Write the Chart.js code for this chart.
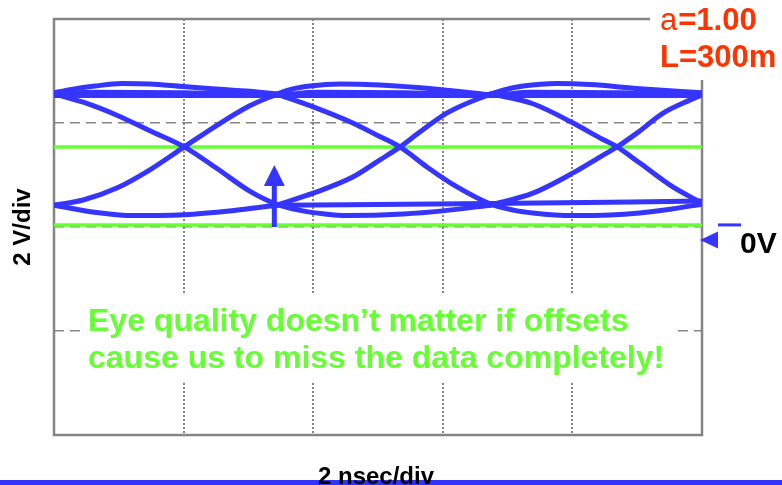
<!DOCTYPE html>
<html>
<head>
<meta charset="utf-8">
<script src="https://cdn.jsdelivr.net/npm/chart.js@4.4.1/dist/chart.umd.min.js"></script>
<style>
  html, body { margin: 0; padding: 0; background: #fff; overflow: hidden; }
  canvas { display: block; }
</style>
</head>
<body>
<canvas id="scope" width="782" height="485"></canvas>
<script>
// Scope eye diagram, a = 1.00, L = 300 m cable.
// Every trace is a list of [time (ns), voltage (V)] samples.

// grid divisions: 2 ns/div horizontally, 2 V/div vertically
const TIME_GRID = [2, 4, 6, 8];
const VOLT_GRID = [-1.75, 0.25, 2.25];
const TIME_RANGE = [0, 10];
const VOLT_RANGE = [-3.75, 4.25];

// receiver threshold levels (green)
const THRESHOLDS = [0.29, 1.79];

// offset arrow: time, start level, end level
const OFFSET_ARROW = { t: 3.4, from: 0.25, to: 1.44 };

// upper rail traces
const flatTop = [[0, 2.78], [3.43, 2.78], [6.74, 2.78], [10, 2.78]];
const innerTop = [[0, 2.80], [0.62, 2.84], [2.01, 2.83], [3.43, 2.79], [4.04, 2.84], [5.43, 2.83],
                  [6.74, 2.79], [7.36, 2.84], [8.75, 2.83], [10, 2.79]];
const arcTop1 = [[0, 2.83], [0.25, 2.89], [0.63, 2.96], [1.05, 3.01], [1.48, 3.00], [1.99, 2.95],
                 [2.56, 2.90], [3.02, 2.86], [3.43, 2.81]];

// rising edges, each running on into the overshoot of the next bit
const riseArc1 = [[0, 0.67], [0.45, 0.77], [0.97, 1.00], [1.48, 1.35], [2.01, 1.79], [2.52, 2.21],
                  [3.02, 2.58], [3.33, 2.75], [3.64, 2.89], [3.95, 2.96], [4.41, 3.00], [5.03, 2.98],
                  [5.91, 2.90], [6.74, 2.79]];
const riseArc2 = [[3.43, 0.67], [4.00, 0.90], [4.61, 1.21], [5.03, 1.54], [5.34, 1.79], [5.65, 2.08],
                  [6.06, 2.44], [6.53, 2.71], [6.93, 2.88], [7.24, 2.96], [7.76, 3.01], [8.27, 2.99],
                  [9.04, 2.91], [10, 2.83]];
const rise3 = [[6.74, 0.67], [7.39, 0.90], [8.01, 1.29], [8.43, 1.60], [8.69, 1.79], [9.00, 2.06],
               [9.40, 2.44], [9.81, 2.69], [10, 2.79]];

// falling edges, each running on into the undershoot of the next bit
const fallArc1 = [[0, 2.81], [0.45, 2.65], [0.97, 2.40], [1.48, 2.10], [2.01, 1.79], [2.52, 1.37],
                  [3.02, 0.94], [3.43, 0.69], [3.80, 0.57], [4.18, 0.50], [4.52, 0.47], [5.39, 0.50],
                  [6.00, 0.56], [6.74, 0.67]];
const fallArc2 = [[3.43, 2.81], [4.00, 2.56], [4.61, 2.25], [4.98, 2.02], [5.34, 1.79], [5.76, 1.40],
                  [6.22, 1.02], [6.74, 0.69], [7.11, 0.57], [7.39, 0.52], [7.99, 0.47], [8.58, 0.48],
                  [9.04, 0.52], [9.51, 0.59], [10, 0.69]];
const fall3 = [[6.74, 2.81], [7.39, 2.62], [8.01, 2.25], [8.43, 1.96], [8.69, 1.79], [9.04, 1.48],
               [9.55, 1.02], [10, 0.71]];

// lower rail traces
const arcBottom1 = [[0, 0.67], [0.59, 0.54], [1.23, 0.47], [2.08, 0.49], [2.87, 0.58], [3.43, 0.67]];
const flatBottom = [[3.43, 0.67], [6.74, 0.70], [10, 0.75]];

const TRACES = [flatTop, innerTop, arcTop1, riseArc1, riseArc2, rise3,
                fallArc1, fallArc2, fall3, arcBottom1, flatBottom];

const NOTE_LINES = ['Eye quality doesn\u2019t matter if offsets',
                    'cause us to miss the data completely!'];

const FONT = '"Liberation Sans", Arial, Helvetica, sans-serif';
const TRACE_BLUE = '#3535ff';
const LEVEL_GREEN = '#66ff33';
const GRID_GREY = '#858585';
const LABEL_RED = '#ff3300';

const datasets = TRACES.map(tr => ({
  data: tr.map(([t, v]) => ({ x: t, y: v })),
  borderColor: TRACE_BLUE,
  borderWidth: 5,
  borderCapStyle: 'round',
  borderJoinStyle: 'round',
  pointRadius: 0,
  cubicInterpolationMode: 'monotone',
  fill: false,
  order: 1
}));
THRESHOLDS.forEach(v => datasets.push({
  data: [{ x: TIME_RANGE[0], y: v }, { x: TIME_RANGE[1], y: v }],
  borderColor: LEVEL_GREEN,
  borderWidth: 3.5,
  pointRadius: 0,
  fill: false,
  order: 2
}));

const scopeMarks = {
  id: 'scopeMarks',
  beforeDatasetsDraw(chart) {
    const { ctx, chartArea: a } = chart;
    ctx.save();
    // graticule frame
    ctx.strokeStyle = GRID_GREY;
    ctx.lineWidth = 2.5;
    ctx.strokeRect(a.left, a.top, a.right - a.left, a.bottom - a.top);
    // note panel knocks the graticule out behind the text
    ctx.font = `bold 32px ${FONT}`;
    const tx = a.left + 34, b1 = a.top + 312, lh = 37;
    const w = Math.max(...NOTE_LINES.map(s => ctx.measureText(s).width));
    ctx.fillStyle = '#fff';
    ctx.fillRect(tx - 8, b1 - 38, w + 20, lh + 51);
    ctx.restore();
  },
  afterDatasetsDraw(chart) {
    const { ctx, chartArea: a, scales: { x, y } } = chart;
    ctx.save();

    // offset arrow
    const ax = x.getPixelForValue(OFFSET_ARROW.t);
    const ay0 = y.getPixelForValue(OFFSET_ARROW.from);
    const ay1 = y.getPixelForValue(OFFSET_ARROW.to);
    ctx.fillStyle = TRACE_BLUE;
    ctx.fillRect(ax - 2.5, ay1 + 18, 5, ay0 - ay1 - 18);
    ctx.beginPath();
    ctx.moveTo(ax, ay1);
    ctx.lineTo(ax + 10.5, ay1 + 21);
    ctx.lineTo(ax - 10.5, ay1 + 21);
    ctx.closePath();
    ctx.fill();

    // note text
    ctx.font = `bold 32px ${FONT}`;
    ctx.fillStyle = LEVEL_GREEN;
    ctx.textBaseline = 'alphabetic';
    ctx.textAlign = 'left';
    const tx = a.left + 34, b1 = a.top + 312, lh = 37;
    NOTE_LINES.forEach((s, i) => ctx.fillText(s, tx, b1 + i * lh));

    // ground marker
    const zy = y.getPixelForValue(0);
    ctx.fillStyle = TRACE_BLUE;
    ctx.beginPath();
    ctx.moveTo(a.right - 2, zy);
    ctx.lineTo(a.right + 16, zy - 8.5);
    ctx.lineTo(a.right + 16, zy + 8.5);
    ctx.closePath();
    ctx.fill();
    const ly = y.getPixelForValue(THRESHOLDS[0]);
    ctx.fillRect(a.right + 16, ly - 1.5, 23, 3);
    ctx.fillStyle = '#000';
    ctx.font = `bold 30px ${FONT}`;
    ctx.fillText('0V', a.right + 38, zy + 13);

    // cable parameters
    ctx.fillStyle = '#fff';
    ctx.fillRect(a.right - 52, 0, chart.width - a.right + 52, a.top + 61);
    const lx = a.right - 42;
    ctx.fillStyle = LABEL_RED;
    ctx.font = `31px ${FONT}`;
    ctx.fillText('a', lx, 30);
    const aw = ctx.measureText('a').width;
    ctx.font = `bold 31px ${FONT}`;
    ctx.fillText('=1.00', lx + aw + 1, 30);
    ctx.fillText('L=300m', lx, 67);

    // axis captions
    ctx.fillStyle = '#000';
    ctx.font = `bold 24px ${FONT}`;
    ctx.textAlign = 'center';
    ctx.save();
    ctx.translate(30, (a.top + a.bottom) / 2);
    ctx.rotate(-Math.PI / 2);
    ctx.fillText('2 V/div', 0, 0);
    ctx.restore();

    ctx.fillStyle = '#3333ff';
    ctx.fillRect(0, chart.height - 5, chart.width, 5);
    ctx.fillStyle = '#000';
    ctx.fillText('2 nsec/div', (a.left + a.right) / 2 - 2, chart.height - 1);
    ctx.restore();
  }
};

new Chart(document.getElementById('scope'), {
  type: 'line',
  data: { datasets },
  options: {
    responsive: false,
    animation: false,
    devicePixelRatio: 1,
    layout: { padding: { left: 54, top: 19, right: 80, bottom: 50 } },
    plugins: { legend: { display: false }, tooltip: { enabled: false }, title: { display: false } },
    scales: {
      x: {
        type: 'linear',
        min: TIME_RANGE[0], max: TIME_RANGE[1],
        afterBuildTicks: s => { s.ticks = TIME_GRID.map(v => ({ value: v })); },
        ticks: { display: false },
        grid: { color: GRID_GREY, lineWidth: 2, drawTicks: false },
        border: { display: false, dash: [2, 2] }
      },
      y: {
        type: 'linear',
        min: VOLT_RANGE[0], max: VOLT_RANGE[1],
        afterBuildTicks: s => { s.ticks = VOLT_GRID.map(v => ({ value: v })); },
        ticks: { display: false },
        grid: { color: GRID_GREY, lineWidth: 1.5, drawTicks: false },
        border: { display: false, dash: [10, 6] }
      }
    }
  },
  plugins: [scopeMarks]
});
</script>
</body>
</html>
